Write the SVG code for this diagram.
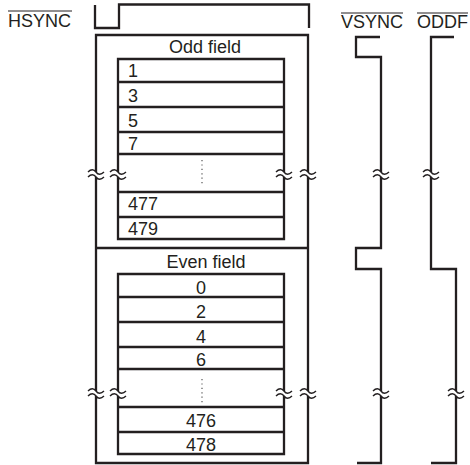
<svg xmlns="http://www.w3.org/2000/svg" xmlns:xlink="http://www.w3.org/1999/xlink" width="470" height="465" viewBox="0 0 470 465">
<style>
.ln{fill:none;stroke:#231f20;stroke-width:2.3;stroke-linejoin:miter;stroke-linecap:butt}
.brk{fill:none;stroke:#231f20;stroke-width:1.4}
.ov{stroke:#231f20;stroke-width:1}
.dot{fill:none;stroke:#555;stroke-width:1.2;stroke-dasharray:1.2 3.2}
text{font-family:"Liberation Sans",Arial,sans-serif;font-size:18px;fill:#231f20}
.c{text-anchor:middle}
</style>
<defs>
<g id="brkmark">
<path class="brk" d="M-8,-2.5 C-5,-5.5 -2,-5.5 0,-2.5 S5,0.5 8,-2.5 M-8,2.5 C-5,-0.5 -2,-0.5 0,2.5 S5,5.5 8,2.5"/>
</g>
</defs>

<g id="hsync">
<text x="8" y="27">HSYNC</text>
<line class="ov" x1="8" y1="11" x2="72" y2="11"/>
<path class="ln" d="M95,5 V28 H119 V4.5 H309 V28"/>
</g>

<g id="vsync">
<text x="341" y="28">VSYNC</text>
<line class="ov" x1="341" y1="13" x2="403" y2="13"/>
<path class="ln" d="M380,37 H356 V57 H381 V172"/>
<path class="ln" d="M381,177 V248 H356 V269 H381 V391"/>
<path class="ln" d="M381,396 V463 H357"/>
<use xlink:href="#brkmark" x="381" y="174.5"/>
<use xlink:href="#brkmark" x="381" y="393.5"/>
</g>

<g id="oddf">
<text x="417" y="28">ODDF</text>
<line class="ov" x1="417" y1="13" x2="468" y2="13"/>
<path class="ln" d="M454,37 H431 V172"/>
<path class="ln" d="M431,177 V269 H456 V391"/>
<path class="ln" d="M456,396 V463 H431"/>
<use xlink:href="#brkmark" x="431" y="174.5"/>
<use xlink:href="#brkmark" x="456" y="393.5"/>
</g>

<g id="frame">
<path class="ln" d="M96,172 V35 H308 V172"/>
<path class="ln" d="M96,177 V391"/>
<path class="ln" d="M308,177 V391"/>
<path class="ln" d="M96,396 V463 H308 V396"/>
<line class="ln" x1="96" y1="248" x2="308" y2="248"/>
<use xlink:href="#brkmark" x="96" y="174.5"/>
<use xlink:href="#brkmark" x="308" y="174.5"/>
<use xlink:href="#brkmark" x="96" y="393.5"/>
<use xlink:href="#brkmark" x="308" y="393.5"/>
</g>

<g id="odd-field">
<text class="c" x="205" y="53">Odd field</text>
<path class="ln" d="M118,172 V59 H284 V172"/>
<path class="ln" d="M118,177 V239 H284 V177"/>
<path class="ln" d="M118,82 H284 M118,107 H284 M118,132 H284 M118,154 H284 M118,192 H284 M118,217 H284"/>
<use xlink:href="#brkmark" x="118" y="174.5"/>
<use xlink:href="#brkmark" x="284" y="174.5"/>
<line class="dot" x1="202" y1="160" x2="202" y2="185"/>
<text x="128" y="77">1</text>
<text x="128" y="102">3</text>
<text x="128" y="127">5</text>
<text x="128" y="150">7</text>
<text x="128" y="210">477</text>
<text x="128" y="235">479</text>
</g>

<g id="even-field">
<text class="c" x="206" y="268">Even field</text>
<path class="ln" d="M118,391 V274 H284 V391"/>
<path class="ln" d="M118,396 V454 H284 V396"/>
<path class="ln" d="M118,297 H284 M118,322 H284 M118,347 H284 M118,369 H284 M118,407 H284 M118,432 H284"/>
<use xlink:href="#brkmark" x="118" y="393.5"/>
<use xlink:href="#brkmark" x="284" y="393.5"/>
<line class="dot" x1="202" y1="379" x2="202" y2="404"/>
<text class="c" x="201" y="294">0</text>
<text class="c" x="201" y="318">2</text>
<text class="c" x="201" y="343">4</text>
<text class="c" x="201" y="366">6</text>
<text class="c" x="201" y="427">476</text>
<text class="c" x="201" y="451">478</text>
</g>
</svg>
